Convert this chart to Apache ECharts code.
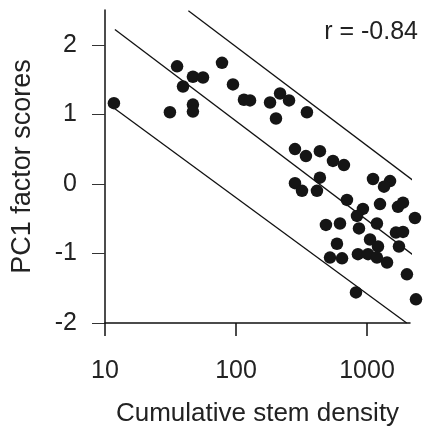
<!DOCTYPE html>
<html>
<head>
<meta charset="utf-8">
<script src="https://cdn.jsdelivr.net/npm/echarts@6/dist/echarts.min.js"></script>
<style>html,body{margin:0;padding:0;background:#fff}#c{width:424px;height:426px}</style>
</head>
<body>
<div id="c"></div>
<script>
// Cumulative stem density (x, log scale)
const stemDensity = [11.7,31.3,35.5,39.4,46.9,56.0,46.9,46.9,78.2,94.8,115,128,182,217,254,202,348,282,342,437,550,667,282,319,437,415,703,486,622,590,522,645,1112,1500,1349,1257,1725,1884,931,839,2323,869,1191,1663,1884,1754,1055,1213,853,1019,1191,1422,2018,824,2366];
// PC1 factor scores (y)
const pc1Scores = [1.16,1.03,1.69,1.40,1.54,1.53,1.14,1.04,1.74,1.43,1.21,1.20,1.17,1.30,1.20,0.94,1.03,0.50,0.40,0.47,0.33,0.27,0.01,-0.10,0.09,-0.10,-0.23,-0.59,-0.57,-0.86,-1.06,-1.07,0.07,0.04,-0.04,-0.29,-0.33,-0.27,-0.36,-0.46,-0.49,-0.64,-0.57,-0.70,-0.69,-0.90,-0.80,-0.90,-1.01,-1.01,-1.06,-1.13,-1.30,-1.56,-1.66];
// Regression line and bounds: [x, y] end points
const fitLine = [[11.9, 2.22], [2320, -1.04]];
const upperLine = [[43.3, 2.49], [2320, 0.03]];
const lowerLine = [[11.9, 1.08], [2010, -2.0]];
const xTicks = [10, 100, 1000];
const yTicks = [-2, -1, 0, 1, 2];
const rText = 'r = -0.84';

const points = stemDensity.map((x, i) => [x, pc1Scores[i]]);
const font = "'Liberation Sans', Arial, Helvetica, sans-serif";
const lineStyle = {color: '#111', width: 1.3};
const mkLine = (d) => ({type: 'line', data: d, symbol: 'none', clip: false, lineStyle, silent: true, z: 2});

const chart = echarts.init(document.getElementById('c'), null, {renderer: 'canvas'});
chart.setOption({
  animation: false,
  backgroundColor: '#fff',
  grid: {left: 105, right: 14, top: 10, bottom: 103, containLabel: false, outerBoundsMode: 'none'},
  xAxis: {
    type: 'log', logBase: 10, min: 10, max: 2130,
    name: 'Cumulative stem density', nameLocation: 'middle', nameGap: 78,
    nameTextStyle: {fontFamily: font, fontSize: 26, color: '#222'},
    axisLine: {show: true, onZero: false, lineStyle: {color: '#111', width: 1.5}},
    axisTick: {show: true, length: 13, customValues: xTicks, lineStyle: {color: '#111', width: 1.5}},
    axisLabel: {customValues: xTicks, margin: 36, fontFamily: font, fontSize: 25, color: '#222',
                formatter: (v) => String(Math.round(v))},
    splitLine: {show: false}, minorTick: {show: false}
  },
  yAxis: {
    type: 'value', min: -2, max: 2.5,
    name: 'PC1 factor scores', nameLocation: 'middle', nameGap: 69,
    nameTextStyle: {fontFamily: font, fontSize: 27, color: '#222'},
    axisLine: {show: true, onZero: false, lineStyle: {color: '#111', width: 1.5}},
    axisTick: {show: true, length: 13, customValues: yTicks, lineStyle: {color: '#333', width: 1}},
    axisLabel: {customValues: yTicks, margin: 28, fontFamily: font, fontSize: 25, color: '#222',
                formatter: (v) => String(v)},
    splitLine: {show: false}
  },
  graphic: [{type: 'text', right: 6, top: 20, style: {text: rText, font: '25px ' + font, fill: '#222'}}],
  series: [
    mkLine(fitLine), mkLine(upperLine), mkLine(lowerLine),
    {type: 'scatter', data: points, symbol: 'circle', symbolSize: 12.5, clip: false,
     itemStyle: {color: '#151515', opacity: 1}, z: 3}
  ]
});
</script>
</body>
</html>
